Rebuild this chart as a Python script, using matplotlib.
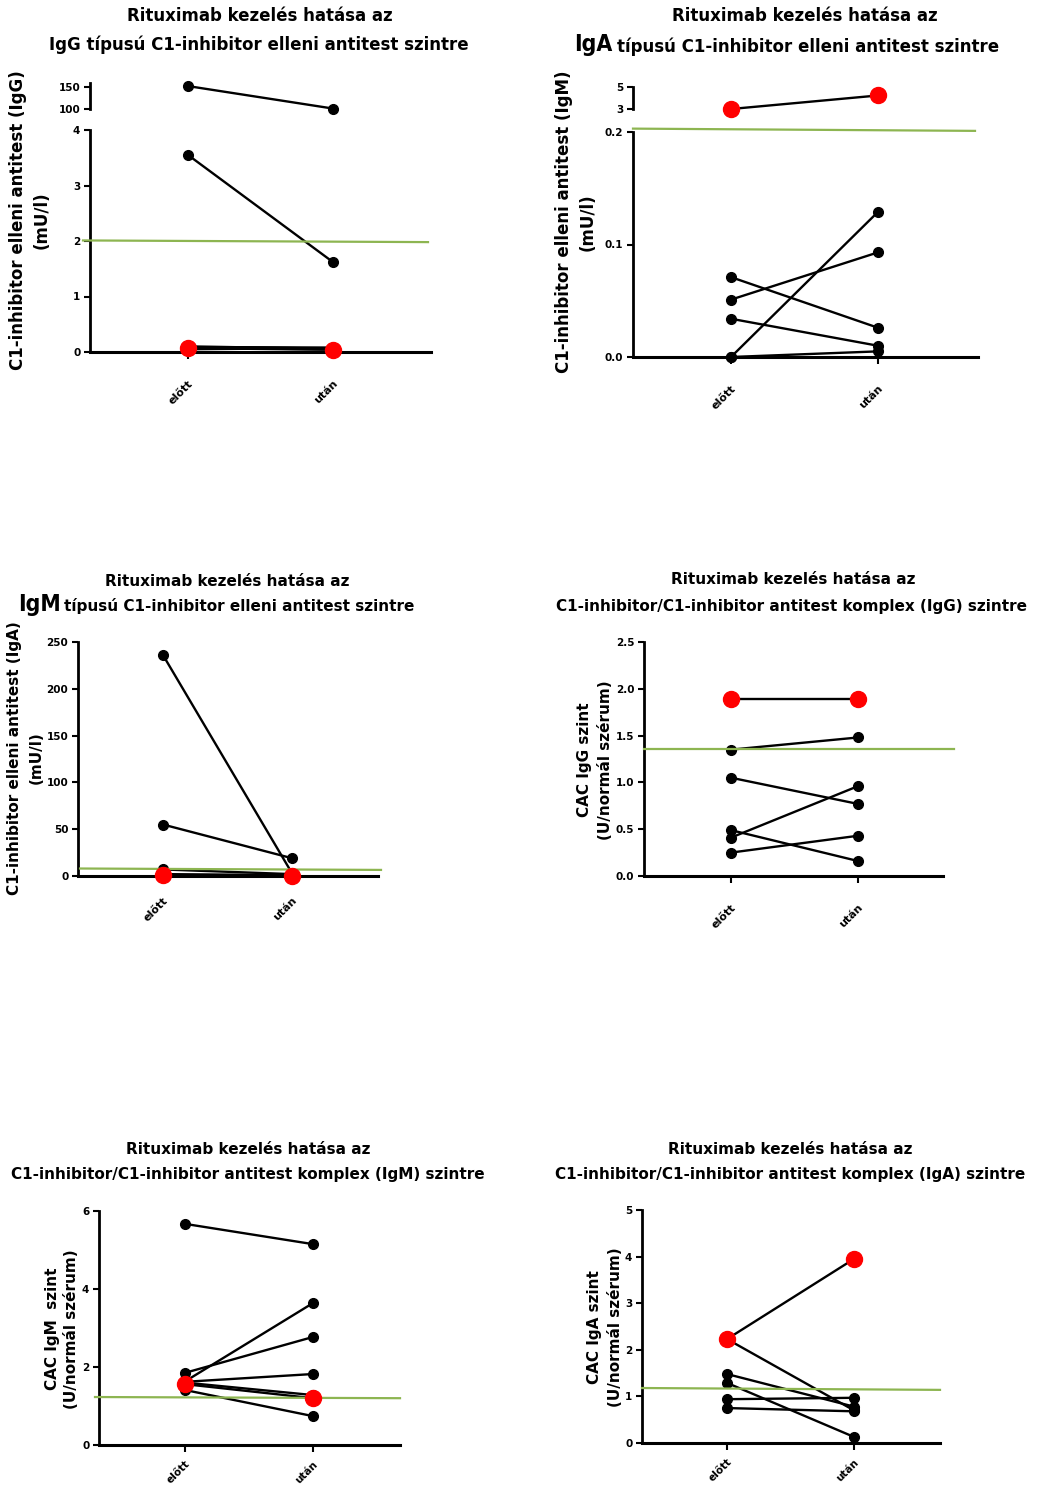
import matplotlib
matplotlib.use("Agg")
import matplotlib.pyplot as plt

W, H = 1040, 1492
plt.rcParams["font.family"] = ["DejaVu Sans"]
plt.rcParams["font.weight"] = "bold"

GREEN = "#8db551"
RED = "#ff0000"

categories = ["előtt", "után"]
title_top = "Rituximab kezelés hatása az"

# A: IgG anti C1-INH (broken y axis)
igg_hi_before = [152]
igg_hi_after = [101]
igg_before = [3.55, 0.10, 0.09, 0.07, 0.05]
igg_after = [1.62, 0.06, 0.08, 0.05, 0.07]
igg_red = [0.07, 0.04]
igg_ref = [2.01, 1.98]
igg_ticks = [0, 1, 2, 3, 4]
igg_hi_ticks = [100, 150]

# B: IgA anti C1-INH (broken y axis)
iga_red = [3.0, 4.23]
iga_before = [0.071, 0.051, 0.034, 0.0, 0.0]
iga_after = [0.026, 0.093, 0.010, 0.129, 0.005]
iga_ref = [0.203, 0.201]
iga_ticks = [0.0, 0.1, 0.2]
iga_tick_labels = ["0.0", "0.1", "0.2"]
iga_hi_ticks = [3, 5]

# C: IgM anti C1-INH
igm_before = [236, 55, 7, 2]
igm_after = [3, 19, 2, 1]
igm_red = [1, 0]
igm_ref = [8, 6.5]
igm_ticks = [0, 50, 100, 150, 200, 250]

# D: CAC IgG
cacg_before = [1.35, 1.05, 0.41, 0.49, 0.25]
cacg_after = [1.48, 0.77, 0.96, 0.16, 0.43]
cacg_red = [1.89, 1.89]
cacg_ref = [1.357, 1.357]
cacg_ticks = [0, 0.5, 1, 1.5, 2, 2.5]
cacg_tick_labels = ["0.0", "0.5", "1.0", "1.5", "2.0", "2.5"]

# E: CAC IgM
cacm_before = [5.67, 1.85, 1.63, 1.62, 1.60, 1.41]
cacm_after = [5.15, 2.77, 3.64, 1.82, 1.28, 0.74]
cacm_red = [1.56, 1.20]
cacm_ref = [1.23, 1.20]
cacm_ticks = [0, 2, 4, 6]

# F: CAC IgA
caca_before = [2.23, 1.48, 1.29, 0.94, 0.75]
caca_after = [0.70, 0.78, 0.13, 0.97, 0.68]
caca_red = [2.23, 3.95]
caca_ref = [1.18, 1.14]
caca_ticks = [0, 1, 2, 3, 4, 5]

fig = plt.figure(figsize=(W / 100, H / 100), dpi=100)


def add_ax(x0, y0, x1, y1, xb, xa):
    # box given in pixels, xb/xa = pixel x of the two categories
    ax = fig.add_axes([x0 / W, 1 - y1 / H, (x1 - x0) / W, (y1 - y0) / H])
    step = xa - xb
    ax.set_xlim(-(xb - x0) / step, 1 + (x1 - xa) / step)
    ax.spines[["top", "right"]].set_visible(False)
    ax.spines["left"].set_linewidth(2.0)
    ax.spines["bottom"].set_linewidth(2.2)
    ax.tick_params(width=1.5, length=4, labelsize=7.5, pad=3)
    ax.patch.set_alpha(0)
    return ax


def cat_ticks(ax, ticks=True, pad=14, size=8):
    ax.set_xticks([0, 1])
    ax.set_xticklabels(categories, rotation=45, ha="right", va="top",
                       rotation_mode="anchor", fontsize=size)
    ax.tick_params(axis="x", pad=pad, length=5 if ticks else 0)


def draw_pairs(ax, before, after):
    for b, a in zip(before, after):
        ax.plot([0, 1], [b, a], color="black", lw=1.7, marker="o", ms=7,
                clip_on=False, zorder=3)


def draw_red(ax, vals):
    ax.plot([0, 1], vals, color="black", lw=1.7, clip_on=False, zorder=3)
    ax.plot([0, 1], vals, ls="none", marker="o", ms=11.5, color=RED,
            clip_on=False, zorder=5)


def draw_ref(ax, vals, x0, x1, xl, xr):
    fl = (xl - x0) / (x1 - x0)
    fr = (xr - x0) / (x1 - x0)
    ax.plot([fl, fr], vals, color=GREEN, lw=1.6,
            transform=ax.get_yaxis_transform(), clip_on=False, zorder=4)


def ftext(x, y, s, **kw):
    return fig.text(x / W, 1 - y / H, s, **kw)


def ylabels(x1, x2, yc, l1, l2, size):
    ftext(x1, yc, l1, rotation=90, ha="center", va="center", fontsize=size)
    ftext(x2, yc, l2, rotation=90, ha="center", va="center", fontsize=size)


def big_ig(x, y, s):
    ftext(x, y, s, ha="right", va="baseline", fontsize=16.5,
          fontweight="bold", fontstretch="condensed")


# ---------------- A: IgG ----------------
up = add_ax(90, 83, 431, 109, 188, 333)
up.spines["bottom"].set_visible(False)
up.set_xticks([])
up.set_ylim(100, 159)
up.set_yticks(igg_hi_ticks)
draw_pairs(up, igg_hi_before, igg_hi_after)

ax = add_ax(90, 130, 431, 352, 188, 333)
ax.set_ylim(0, 4)
ax.set_yticks(igg_ticks)
draw_pairs(ax, igg_before, igg_after)
draw_red(ax, igg_red)
draw_ref(ax, igg_ref, 90, 431, 83, 428)
cat_ticks(ax)
ftext(260, 16, title_top, ha="center", va="center", fontsize=12)
ftext(259, 45, "IgG típusú C1-inhibitor elleni antitest szintre",
      ha="center", va="center", fontsize=12)
ylabels(18, 42, 220, "C1-inhibitor elleni antitest (IgG)", "(mU/l)", 12)

# ---------------- B: IgA ----------------
up = add_ax(633, 87, 978, 109, 731, 878)
up.spines["bottom"].set_visible(False)
up.set_xticks([])
up.set_ylim(3, 5)
up.set_yticks(iga_hi_ticks)
draw_red(up, iga_red)

ax = add_ax(633, 132, 978, 357, 731, 878)
ax.set_ylim(0, 0.2)
ax.set_yticks(iga_ticks)
ax.set_yticklabels(iga_tick_labels)
draw_pairs(ax, iga_before, iga_after)
draw_ref(ax, iga_ref, 633, 978, 633, 975)
cat_ticks(ax)
ftext(805, 16, title_top, ha="center", va="center", fontsize=12)
big_ig(612, 51.5, "IgA")
ftext(617, 51.5, "típusú C1-inhibitor elleni antitest szintre",
      ha="left", va="baseline", fontsize=12)
ylabels(564, 588, 222, "C1-inhibitor elleni antitest (IgM)", "(mU/l)", 12)

# ---------------- C: IgM ----------------
ax = add_ax(78, 642, 378, 876, 163, 292)
ax.set_ylim(0, 250)
ax.set_yticks(igm_ticks)
draw_pairs(ax, igm_before, igm_after)
draw_red(ax, igm_red)
draw_ref(ax, igm_ref, 78, 378, 80, 381)
cat_ticks(ax, ticks=False)
ftext(227, 581, title_top, ha="center", va="center", fontsize=11)
big_ig(61, 611, "IgM")
ftext(64, 611, "típusú C1-inhibitor elleni antitest szintre",
      ha="left", va="baseline", fontsize=11)
ylabels(15, 36, 758, "C1-inhibitor elleni antitest (IgA)", "(mU/l)", 11)

# ---------------- D: CAC IgG ----------------
ax = add_ax(644, 642, 943, 876, 731, 858)
ax.set_ylim(0, 2.5)
ax.set_yticks(cacg_ticks)
ax.set_yticklabels(cacg_tick_labels)
draw_pairs(ax, cacg_before, cacg_after)
draw_red(ax, cacg_red)
draw_ref(ax, cacg_ref, 644, 943, 644, 954)
cat_ticks(ax)
ftext(793, 580, title_top, ha="center", va="center", fontsize=11)
ftext(792, 607, "C1-inhibitor/C1-inhibitor antitest komplex (IgG) szintre",
      ha="center", va="center", fontsize=11)
ylabels(585, 605, 760, "CAC IgG szint", "(U/normál szérum)", 11)

# ---------------- E: CAC IgM ----------------
ax = add_ax(99, 1211, 400, 1445, 185, 313)
ax.set_ylim(0, 6)
ax.set_yticks(cacm_ticks)
draw_pairs(ax, cacm_before, cacm_after)
draw_red(ax, cacm_red)
draw_ref(ax, cacm_ref, 99, 400, 95, 400)
cat_ticks(ax, pad=5, size=7.5)
ftext(248, 1149, title_top, ha="center", va="center", fontsize=11)
ftext(248, 1175, "C1-inhibitor/C1-inhibitor antitest komplex (IgM) szintre",
      ha="center", va="center", fontsize=11)
ylabels(52, 72, 1329, "CAC IgM  szint", "(U/normál szérum)", 11)

# ---------------- F: CAC IgA ----------------
ax = add_ax(642, 1210, 940, 1443, 727, 854)
ax.set_ylim(0, 5)
ax.set_yticks(caca_ticks)
draw_pairs(ax, caca_before, caca_after)
draw_red(ax, caca_red)
draw_ref(ax, caca_ref, 642, 940, 642, 940)
cat_ticks(ax, pad=5, size=7.5)
ftext(790, 1149, title_top, ha="center", va="center", fontsize=11)
ftext(790, 1175, "C1-inhibitor/C1-inhibitor antitest komplex (IgA) szintre",
      ha="center", va="center", fontsize=11)
ylabels(595, 615, 1327, "CAC IgA szint", "(U/normál szérum)", 11)

fig.savefig("out.png", dpi=100)
